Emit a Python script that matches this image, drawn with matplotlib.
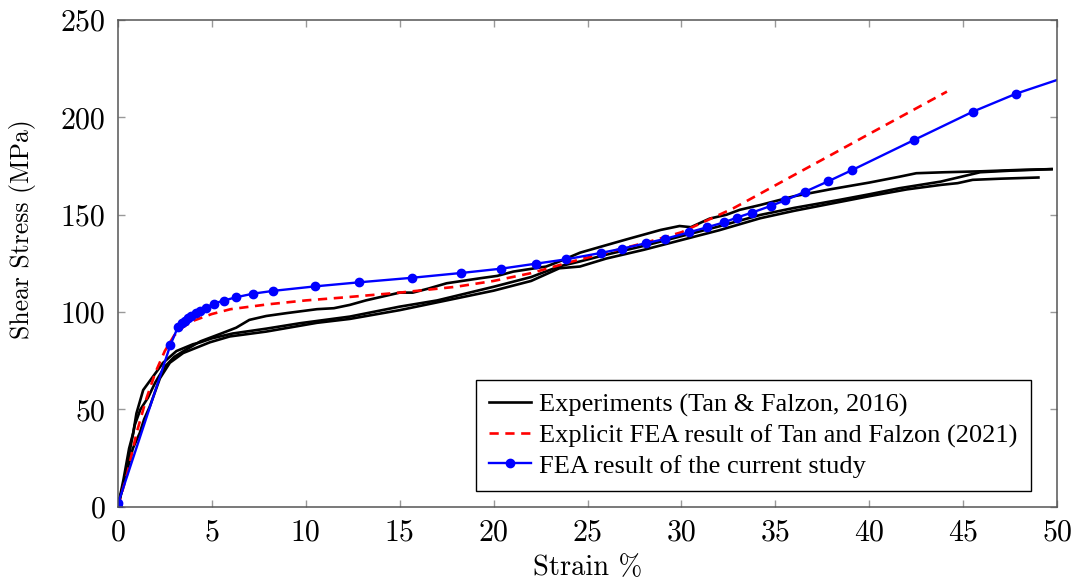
import numpy as np
import matplotlib
matplotlib.use("Agg")
import matplotlib.pyplot as plt

plt.rcParams['font.family'] = ['Liberation Serif', 'DejaVu Serif']
plt.rcParams['mathtext.fontset'] = 'cm'

########

# experiments (three specimens)
exp1_x = [0, 0.3, 0.6, 0.9, 1.2, 1.6, 2.0, 2.5, 3.0, 3.5, 4.4, 5.5, 6.3, 7.0, 7.9, 9.0,
          10.6, 11.5, 12.35, 13.2, 14.1, 15.0, 15.7, 16.5, 17.5, 19.3, 20.2, 21.05, 22.8,
          23.5, 24.6, 25.5, 27.1, 28.9, 29.9, 30.5, 31.5, 32.4, 33.1, 34.2, 36.0, 37.9,
          40.0, 41.6, 42.5, 44.0, 46.0, 48.0, 49.7]
exp1_y = [0, 12, 27, 42, 50, 56, 64, 72, 77, 80, 85, 89, 92, 96, 98, 99.5,
          101.5, 102, 103.7, 106, 108, 110, 110, 112, 114.8, 117.4, 118.6, 120.8, 123.4,
          126, 130.5, 133, 137.4, 142.2, 144.2, 143.6, 148, 150, 152.5, 155, 159.5, 163,
          166.5, 169.5, 171.3, 171.8, 172.3, 173, 173.4]

exp2_x = [0, 0.3, 0.6, 0.82, 0.99, 1.35, 1.88, 2.41, 3.12, 4.0, 4.4, 5.0, 6.1, 7.9, 9.7,
          12.35, 15.0, 17.0, 20.0, 22.0, 23.5, 24.6, 26.0, 28.0, 30.0, 32.0, 34.2, 36.0,
          38.4, 40.0, 41.6, 43.8, 45.9, 47.5, 49.7]
exp2_y = [0, 14, 30, 38, 48, 60, 67, 74, 80, 83.5, 84.5, 86.5, 89, 91.5, 94.3,
          97.7, 102.8, 106, 113, 118, 123.5, 126, 129.5, 134, 139, 144, 149.9, 153.5,
          157.6, 160.5, 163.6, 167, 171.8, 172.6, 173.4]

exp3_x = [0, 0.4, 0.8, 1.17, 1.4, 1.7, 2.24, 2.77, 3.48, 4.9, 5.96, 7.9, 10.6, 12.35,
          15.0, 18.0, 20.0, 22.0, 23.5, 24.6, 26.0, 28.0, 30.0, 32.0, 34.2, 36.0, 38.4,
          40.0, 42.0, 43.8, 44.7, 45.5, 47.0, 49.0]
exp3_y = [0, 15, 30, 38, 45, 51.5, 66, 74, 79, 84.5, 87.5, 90, 94.5, 96.5,
          101, 107, 111, 116, 122.5, 123.4, 127.5, 132, 137, 142, 148.2, 152, 156.5,
          159.5, 163, 165.3, 166.2, 167.9, 168.5, 169.1]

# explicit FEA, Tan and Falzon (2021)
tf_x = [0, 0.5, 1.0, 1.5, 2.0, 2.5, 3.0, 3.5, 4.0, 5.0, 6.0, 8.0, 10.0, 12.0, 15.0,
        18.0, 20.0, 22.0, 24.0, 26.0, 28.3, 30.0, 32.76, 34.0, 36.0, 38.0, 40.0, 42.0, 44.13]
tf_y = [0, 17, 38, 55, 69, 80, 88, 92.5, 95.5, 99, 101.5, 104, 106, 107.5, 110,
        113, 116, 120, 125.5, 130.5, 136.2, 141, 153.3, 159.8, 170.4, 180.9, 191.5, 202, 213.2]

# FEA, current study
cs_x = [0, 0.02, 2.8, 3.21, 3.39, 3.57, 3.74, 3.92, 4.15, 4.37, 4.69, 5.11, 5.64, 6.28,
        7.22, 8.27, 10.49, 12.85, 15.64, 18.29, 20.41, 22.28, 23.87, 25.72, 26.85, 28.13,
        29.13, 30.42, 31.38, 32.28, 32.94, 33.76, 34.75, 35.52, 36.6, 37.82, 39.1, 42.39,
        45.51, 47.83, 50.0]
cs_y = [0, 1.9, 83.2, 92.6, 94.3, 95.6, 96.9, 98.0, 99.4, 100.6, 102.2, 104.4, 105.9, 107.6,
        109.5, 110.9, 113.2, 115.3, 117.6, 120.1, 122.3, 124.9, 127.1, 130.4, 132.6, 135.4,
        137.6, 141.0, 143.6, 146.1, 148.5, 151.1, 154.5, 157.4, 161.9, 167.2, 173.0, 188.4,
        202.9, 212.2, 219.2]

########

fig = plt.figure(figsize=(10.81, 5.86), dpi=100)
ax = fig.add_axes([0.109, 0.135, 0.869, 0.831])

ax.plot(exp1_x, exp1_y, color='k', lw=1.9, label='Experiments (Tan & Falzon, 2016)')
ax.plot(exp2_x, exp2_y, color='k', lw=1.9)
ax.plot(exp3_x, exp3_y, color='k', lw=1.9)

ax.plot(tf_x, tf_y, color='#ff0000', lw=1.9, ls=(0, (3.5, 2.5)),
        label='Explicit FEA result of Tan and Falzon (2021)')

ax.plot(cs_x[:-1], cs_y[:-1], color='#0000ff', lw=1.7, marker='o', ms=6,
        label='FEA result of the current study')
ax.plot(cs_x[-2:], cs_y[-2:], color='#0000ff', lw=1.7)

ax.set_xlim(0, 50)
ax.set_ylim(0, 250)
ax.set_xticks(np.arange(0, 51, 5))
ax.set_yticks(np.arange(0, 251, 50))

# axis texts in Computer Modern, legend in Times
ax.set_xlabel('Strain %', fontsize=20.5, family='cmr10', labelpad=6)
ax.set_ylabel('Shear Stress (MPa)', fontsize=18.5, family='cmr10')
ax.yaxis.set_label_coords(-0.087, 0.57)

ax.tick_params(direction='in', top=True, right=True, length=5, width=1,
               color='#999999', labelsize=21.5, pad=9)
for lbl in ax.get_xticklabels() + ax.get_yticklabels():
    lbl.set_family('cmr10')
for s in ax.spines.values():
    s.set_color('#555555')
    s.set_linewidth(1.1)

leg = ax.legend(loc='lower right', bbox_to_anchor=(0.972, 0.033), fontsize=19,
                frameon=True, fancybox=False, edgecolor='k', framealpha=1,
                handlelength=1.6, handletextpad=0.3, borderpad=0.5, labelspacing=0.25,
                borderaxespad=0)
leg.get_frame().set_linewidth(1.0)

plt.savefig('out.png', dpi=100)
